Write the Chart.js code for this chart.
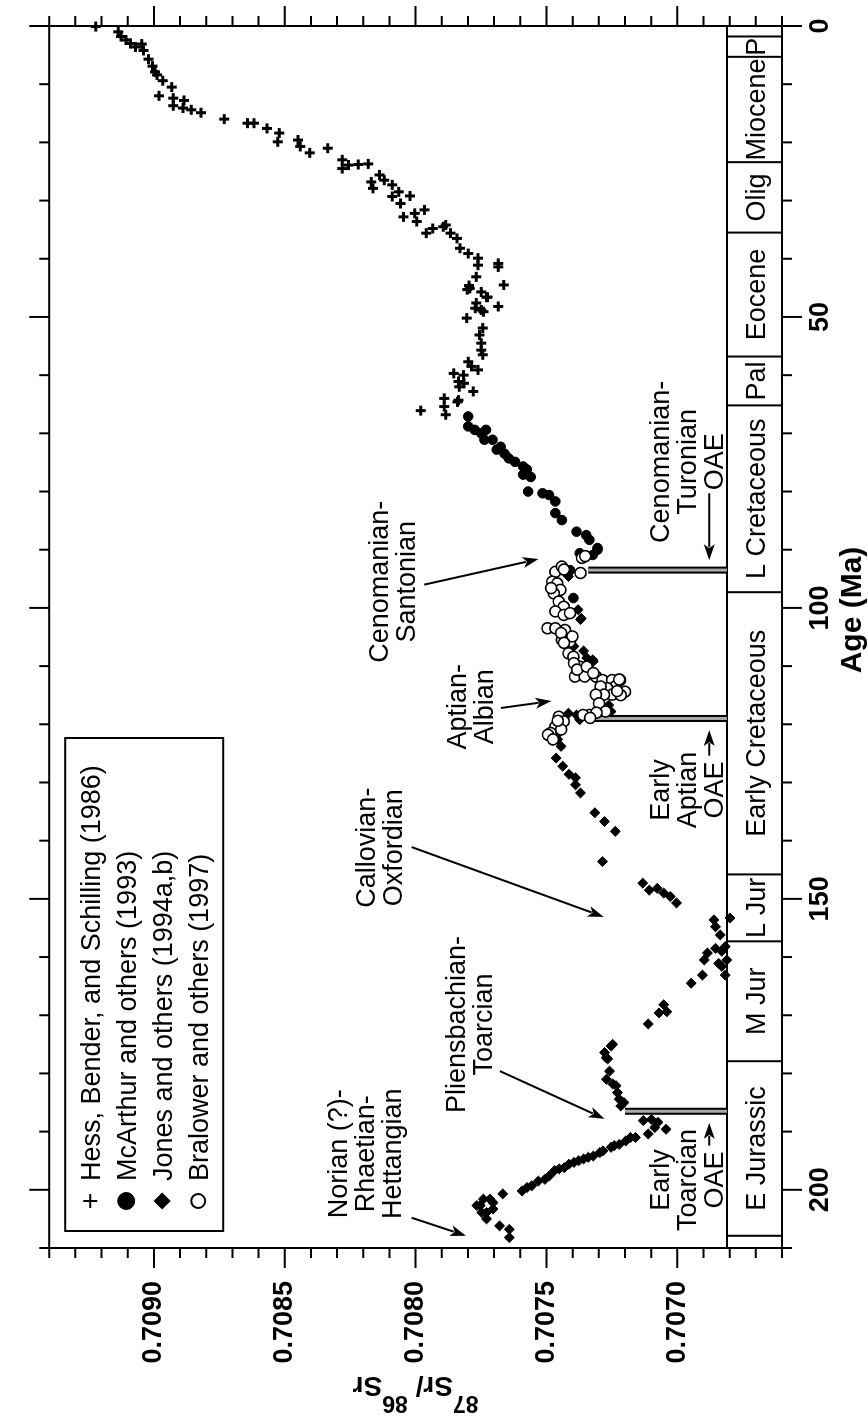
<!DOCTYPE html>
<html>
<head>
<meta charset="utf-8">
<script src="https://cdn.jsdelivr.net/npm/chart.js@4.4.1/dist/chart.umd.min.js"></script>
<style>
html, body { margin:0; padding:0; background:#fff; width:868px; height:1420px; overflow:hidden; }
#wrap { position:absolute; left:0; top:0; width:1420px; height:868px; transform-origin:0 0; transform:translateY(1420px) rotate(-90deg); }
canvas { display:block; }
</style>
</head>
<body>
<div id="wrap"><canvas id="c" width="1420" height="868"></canvas></div>
<script>
// ---------------- DATA (age in Ma, 87Sr/86Sr) ----------------
const hess = [
 [0.1,0.709222],[1.0,0.709136],[1.8,0.709126],[2.4,0.709107],[3.0,0.709089],[3.6,0.709070],[3.1,0.709046],[4.2,0.709040],
 [5.7,0.709021],[6.9,0.709005],[7.9,0.708996],[8.4,0.708988],[9.4,0.708966],[10.5,0.708932],[12.0,0.708980],[12.4,0.708926],
 [13.7,0.708926],[12.8,0.708885],[14.1,0.708889],[14.4,0.708857],[14.9,0.708820],[16.0,0.708731],[16.7,0.708642],[16.7,0.708617],
 [17.6,0.708568],[18.4,0.708521],[19.9,0.708527],[19.6,0.708449],[20.7,0.708441],[21.8,0.708404],[21.0,0.708336],[23.0,0.708280],
 [24.5,0.708280],[23.9,0.708256],[23.8,0.708219],[23.7,0.708181],[26.8,0.708169],[27.9,0.708163],[25.6,0.708138],[26.5,0.708120],
 [27.3,0.708089],[29.3,0.708089],[28.5,0.708064],[30.5,0.708058],[29.2,0.708021],[32.8,0.708046],[32.2,0.708003],[33.6,0.707996],
 [31.6,0.707966],[35.6,0.707959],[34.8,0.707934],[34.5,0.707894],[34.2,0.707885],[35.6,0.707867],[36.5,0.707842],[38.2,0.707830],
 [39.1,0.707799],[39.9,0.707762],[41.1,0.707762],[40.8,0.707684],[41.4,0.707684],[44.5,0.707663],[43.1,0.707768],[45.1,0.707793],
 [45.7,0.707749],[46.6,0.707725],[47.6,0.707768],[48.8,0.707749],[48.2,0.707684],[50.2,0.707805],[51.9,0.707743],[53.1,0.707756],
 [54.5,0.707749],[55.7,0.707749],[56.5,0.707743],[57.7,0.707799],[58.5,0.707786],[59.1,0.707762],[59.7,0.707854],[60.0,0.707817],
 [61.1,0.707836],[62.8,0.707780],[64.3,0.707836],[64.0,0.707891],[65.4,0.707891],[66.8,0.707885],[66.1,0.707980],[62.0,0.707833],
 [64.6,0.707840],[61.4,0.707815],[44.6,0.707796],[45.3,0.707803],[48.5,0.707772],[49.1,0.707741],[46.6,0.707729]
];
const mcarthur = [
 [67.1,0.707799],[68.8,0.707799],[69.4,0.707774],[70.0,0.707749],[69.4,0.707731],[71.1,0.707737],[71.1,0.707706],[72.3,0.707675],
 [72.8,0.707690],[73.5,0.707660],[74.3,0.707644],[74.9,0.707620],[75.7,0.707589],[76.2,0.707575],[77.1,0.707589],[77.5,0.707560],
 [80.0,0.707570],[80.3,0.707515],[80.6,0.707490],[81.7,0.707466],[83.7,0.707466],[84.9,0.707441],[86.9,0.707385],[87.5,0.707348],
 [88.3,0.707336],[90.0,0.707305],[90.9,0.707323],[89.7,0.707305],[90.6,0.707373],[93.5,0.707410],[94.0,0.707420],[98.3,0.707397],
 [118.7,0.707373],[121.5,0.707459]
];
const jones = [
 [94.6,0.707416],[102.0,0.707370],[100.3,0.707379],[101.8,0.707367],[106.6,0.707395],[107.4,0.707358],[108.6,0.707346],[109.2,0.707321],
 [108.9,0.707323],[116.7,0.707262],[117.8,0.707253],[118.1,0.707416],[118.4,0.707385],[119.2,0.707373],[122.6,0.707457],[123.8,0.707444],
 [125.8,0.707463],[127.2,0.707438],[128.6,0.707414],[129.2,0.707389],[130.4,0.707389],[131.8,0.707370],[135.2,0.707315],[136.7,0.707278],
 [138.4,0.707237],[143.6,0.707286],[147.3,0.707132],[148.5,0.707107],[148.2,0.707077],[149.0,0.707052],[149.6,0.707027],[150.7,0.707003],
 [153.6,0.706860],[154.8,0.706854],[153.3,0.706799],[156.2,0.706836],[159.3,0.706885],[158.5,0.706854],[159.0,0.706830],[158.2,0.706817],
 [160.5,0.706811],[161.1,0.706842],[161.6,0.706830],[163.1,0.706817],[160.5,0.706897],[163.1,0.706904],[164.5,0.706947],[168.2,0.707052],
 [169.4,0.707040],[169.6,0.707070],[171.5,0.707111],[175.0,0.707247],[175.3,0.707253],[176.4,0.707278],[177.3,0.707272],[177.5,0.707266],
 [179.6,0.707259],[181.0,0.707271],[181.8,0.707247],[182.1,0.707234],[183.3,0.707229],[184.4,0.707222],[185.0,0.707204],[185.6,0.707216],
 [187.9,0.707099],[188.1,0.707130],[188.4,0.707074],[189.3,0.707086],[189.6,0.707043],[190.4,0.707111],[191.0,0.707160],[191.0,0.707179],
 [191.6,0.707197],[192.2,0.707222],[192.4,0.707241],[192.7,0.707253],[193.3,0.707284],[193.6,0.707296],[194.2,0.707321],[194.4,0.707340],
 [194.7,0.707358],[195.0,0.707377],[195.3,0.707395],[195.6,0.707414],[196.2,0.707432],[196.4,0.707451],[196.7,0.707469],[197.6,0.707489],
 [198.2,0.707506],[198.5,0.707531],[199.3,0.707556],[199.6,0.707574],[200.2,0.707593],[200.7,0.707667],[201.6,0.707716],[201.6,0.707741],
 [202.2,0.707704],[202.7,0.707753],[202.7,0.707766],[203.3,0.707704],[203.9,0.707729],[203.9,0.707747],[205.0,0.707729],[206.2,0.707679],
 [206.8,0.707642],[208.2,0.707642]
];
const bralower = [
 [93.8,0.707466],[92.9,0.707441],[91.4,0.707364],[91.1,0.707352],[94.0,0.707370],[95.5,0.707478],[95.8,0.707459],[96.9,0.707447],
 [97.5,0.707472],[98.9,0.707453],[99.8,0.707434],[100.6,0.707466],[101.2,0.707434],[100.9,0.707410],[103.5,0.707496],[103.5,0.707466],
 [103.8,0.707429],[105.5,0.707441],[105.8,0.707410],[107.8,0.707416],[108.4,0.707397],[110.1,0.707373],[111.8,0.707391],[111.8,0.707354],
 [111.8,0.707311],[112.4,0.707286],[112.4,0.707249],[112.4,0.707219],[114.4,0.707200],[113.5,0.707237],[113.8,0.707268],[113.5,0.707293],
 [114.9,0.707249],[114.9,0.707280],[114.9,0.707311],[116.4,0.707299],[117.8,0.707274],[118.4,0.707336],[118.4,0.707360],[118.7,0.707453],
 [119.5,0.707434],[120.4,0.707466],[121.5,0.707484],[121.8,0.707494],[122.6,0.707475],[120.9,0.707444],[93.4,0.707433],[96.6,0.707482],
 [104.3,0.707444],[104.9,0.707401],[106.0,0.707433],[109.5,0.707395],[110.6,0.707383],[110.1,0.707346],[111.2,0.707321],[112.3,0.707222],
 [115.0,0.707216],[114.3,0.707230],[118.0,0.707309],[118.9,0.707333],[119.4,0.707457]
];
// OAE bars: age and Sr where the bar starts; bars run to the time-scale column
const oaeAges = [93.5, 119.0, 186.5];
const oaeSrStart = [0.70734, 0.70733, 0.70720];
// Geologic time scale
const periodNames  = ["", "P", "Miocene", "Olig", "Eocene", "Pal", "L Cretaceous", "Early Cretaceous", "L Jur", "M Jur", "E Jurassic", ""];
const periodBounds = [0, 1.8, 5.3, 23.4, 35.5, 56.8, 65.2, 97.3, 145.8, 157.3, 177.9, 207.9, 210];
// Tick labels
const ageTickLabels = [0, 50, 100, 150, 200];
const srTickLabels = [0.7070, 0.7075, 0.7080, 0.7085, 0.7090];
const seriesNames = ["Hess, Bender, and Schilling (1986)", "McArthur and others (1993)", "Jones and others (1994a,b)", "Bralower and others (1997)"];

// ---------------- CONFIG ----------------
const AGE_MIN = 0, AGE_MAX = 210, SR_MIN = 0.7066, SR_MAX = 0.7094, COLUMN_SR = 0.70681;
const FONT = '"Liberation Sans", Arial, Helvetica, sans-serif';

const notes = [
  {lines:['Cenomanian-','Turonian','OAE'], age:74.9, sr:0.707033},
  {lines:['Cenomanian-','Santonian'], age:95.5, sr:0.708107},
  {lines:['Aptian-','Albian'], age:117.0, sr:0.707807},
  {lines:['Callovian-','Oxfordian'], age:141.2, sr:0.708156},
  {lines:['Early','Aptian','OAE'], age:131.3, sr:0.707033},
  {lines:['Pliensbachian-','Toarcian'], age:171.6, sr:0.707811},
  {lines:['Early','Toarcian','OAE'], age:198.3, sr:0.707033},
  {lines:['Norian (?)-','Rhaetian-','Hettangian'], age:193.8, sr:0.708263}
];
const arrows = [
  [80.3,0.706878, 91.8,0.706878],
  [96.0,0.707967, 91.6,0.707530],
  [117.2,0.707674, 116.0,0.707481],
  [141.1,0.708015, 153.1,0.707281],
  [125.4,0.706878, 121.0,0.706878],
  [179.6,0.707678, 187.8,0.707278],
  [192.4,0.706878, 188.5,0.706878],
  [204.8,0.708015, 207.9,0.707807]
];

const toXY = arr => arr.map(p => ({x:p[0], y:p[1]}));

const styles = [
  {pointStyle:'cross', pointRadius:5, pointBorderWidth:3, pointBackgroundColor:'#000', pointBorderColor:'#000'},
  {pointStyle:'circle', pointRadius:4.8, pointBorderWidth:1, pointBackgroundColor:'#000', pointBorderColor:'#000'},
  {pointStyle:'rectRot', pointRadius:5, pointBorderWidth:1, pointBackgroundColor:'#000', pointBorderColor:'#000'},
  {pointStyle:'circle', pointRadius:5.5, pointBorderWidth:1.6, pointBackgroundColor:'#fff', pointBorderColor:'#000'}
];
const series = [hess, mcarthur, jones, bralower];
const orders = [3, 1, 2, 0];

const datasets = series.map((s, i) => Object.assign({
  label: seriesNames[i], data: toXY(s), showLine:false, order: orders[i], clip: false
}, styles[i]));

oaeAges.forEach((a, i) => {
  const d = [{x:a, y:oaeSrStart[i]}, {x:a, y:COLUMN_SR}];
  datasets.push({type:'line', label:'', data:d, borderColor:'#000', borderWidth:7, pointRadius:0, order:6, clip:false});
  datasets.push({type:'line', label:'', data:d, borderColor:'#a8a8a8', borderWidth:3, pointRadius:0, order:5, clip:false});
});

function drawArrow(ctx, x1, y1, x2, y2) {
  const ang = Math.atan2(y2 - y1, x2 - x1);
  const L = 16, W = 5.5;
  const bx = x2 - Math.cos(ang) * (L - 3), by = y2 - Math.sin(ang) * (L - 3);
  ctx.beginPath(); ctx.moveTo(x1, y1); ctx.lineTo(bx, by); ctx.stroke();
  ctx.beginPath();
  ctx.moveTo(x2, y2);
  ctx.lineTo(x2 - Math.cos(ang) * L + Math.sin(ang) * W, y2 - Math.sin(ang) * L - Math.cos(ang) * W);
  ctx.lineTo(x2 - Math.cos(ang) * (L - 4), y2 - Math.sin(ang) * (L - 4));
  ctx.lineTo(x2 - Math.cos(ang) * L - Math.sin(ang) * W, y2 - Math.sin(ang) * L + Math.cos(ang) * W);
  ctx.closePath(); ctx.fill();
}

const decor = {
  id: 'decor',
  beforeDatasetsDraw(chart) {
    const {ctx, chartArea: a, scales: {x: xs, y: ys}} = chart;
    ctx.save();
    ctx.strokeStyle = '#000'; ctx.lineWidth = 2;
    const y1 = ys.getPixelForValue(COLUMN_SR), y2 = a.bottom;
    ctx.beginPath();
    ctx.moveTo(a.left, y1); ctx.lineTo(a.right, y1);
    periodBounds.forEach(b => {
      if (b > AGE_MIN && b < AGE_MAX) { const px = xs.getPixelForValue(b); ctx.moveTo(px, y1); ctx.lineTo(px, y2); }
    });
    ctx.stroke();
    ctx.fillStyle = '#000'; ctx.font = '27px ' + FONT; ctx.textAlign = 'center'; ctx.textBaseline = 'alphabetic';
    periodNames.forEach((n, i) => {
      if (!n) return;
      const cx = (xs.getPixelForValue(periodBounds[i]) + xs.getPixelForValue(periodBounds[i + 1])) / 2;
      ctx.fillText(n, cx, (y1 + y2) / 2 + 10);
    });
    ctx.restore();
  },
  afterDatasetsDraw(chart) {
    const {ctx, chartArea: a, scales: {x: xs, y: ys}} = chart;
    ctx.save();
    ctx.strokeStyle = '#000'; ctx.fillStyle = '#000'; ctx.lineWidth = 2;
    // frame
    ctx.strokeRect(a.left, a.top, a.right - a.left, a.bottom - a.top);
    // ticks
    ctx.beginPath();
    for (let v = AGE_MIN; v <= AGE_MAX + 1e-9; v += 10) {
      const len = (v % 50 === 0) ? 20 : 10;
      const px = xs.getPixelForValue(v);
      ctx.moveTo(px, a.bottom); ctx.lineTo(px, a.bottom + len);
      ctx.moveTo(px, a.top); ctx.lineTo(px, a.top - len);
    }
    for (let k = 0; k <= 28; k++) {
      const v = SR_MIN + k * 0.0001;
      const len = ((k - 4) % 5 === 0) ? 20 : 10;
      const py = ys.getPixelForValue(v);
      ctx.moveTo(a.left, py); ctx.lineTo(a.left - len, py);
      ctx.moveTo(a.right, py); ctx.lineTo(a.right + len, py);
    }
    ctx.stroke();

    // legend
    const lx = a.left + 17, ly = a.top + 16, lw = 493, lh = 158;
    ctx.fillStyle = '#fff'; ctx.fillRect(lx, ly, lw, lh);
    ctx.strokeRect(lx, ly, lw, lh);
    ctx.font = '27px ' + FONT; ctx.textAlign = 'left'; ctx.textBaseline = 'alphabetic';
    const legendStyles = [
      {pointStyle:'cross', radius:7, borderWidth:2, fill:'#000'},
      {pointStyle:'circle', radius:8.5, borderWidth:1, fill:'#000'},
      {pointStyle:'rectRot', radius:8, borderWidth:1, fill:'#000'},
      {pointStyle:'circle', radius:7, borderWidth:2, fill:'#fff'}
    ];
    seriesNames.forEach((n, i) => {
      const base = ly + 35 + i * 36;
      const st = legendStyles[i];
      ctx.fillStyle = st.fill; ctx.strokeStyle = '#000'; ctx.lineWidth = st.borderWidth;
      Chart.helpers.drawPoint(ctx, {pointStyle: st.pointStyle, radius: st.radius, borderWidth: st.borderWidth, rotation: 0}, lx + 30, base - 10);
      ctx.fillStyle = '#000';
      ctx.fillText(n, lx + 50, base);
    });

    // annotations
    ctx.fillStyle = '#000'; ctx.strokeStyle = '#000'; ctx.lineWidth = 2;
    ctx.font = '27px ' + FONT; ctx.textAlign = 'center'; ctx.textBaseline = 'alphabetic';
    notes.forEach(n => {
      const cx = xs.getPixelForValue(n.age), by = ys.getPixelForValue(n.sr);
      n.lines.forEach((t, j) => ctx.fillText(t, cx, by + j * 27.3));
    });
    arrows.forEach(r => {
      drawArrow(ctx, xs.getPixelForValue(r[0]), ys.getPixelForValue(r[1]), xs.getPixelForValue(r[2]), ys.getPixelForValue(r[3]));
    });

    // axis titles
    ctx.font = 'bold 30px ' + FONT; ctx.textAlign = 'center';
    ctx.fillText('Age (Ma)', a.right - 584, 861);

    ctx.translate(43, (a.top + a.bottom) / 2);
    ctx.rotate(-Math.PI / 2);
    const big = 'bold 28px ' + FONT, small = 'bold 23px ' + FONT;
    const parts = [['87', small, -19], ['Sr/ ', big, 0], ['86', small, -19], ['Sr', big, 0]];
    let w = 0;
    parts.forEach(p => { ctx.font = p[1]; w += ctx.measureText(p[0]).width; });
    let x = -w / 2;
    ctx.textAlign = 'left';
    parts.forEach(p => { ctx.font = p[1]; ctx.fillText(p[0], x, p[2]); x += ctx.measureText(p[0]).width; });
    ctx.restore();
  }
};

Chart.defaults.font.family = FONT;
Chart.defaults.color = '#000';

new Chart(document.getElementById('c'), {
  type: 'scatter',
  data: { datasets },
  options: {
    responsive: false,
    animation: false,
    devicePixelRatio: 1,
    events: [],
    layout: { padding: { left: 0, top: 26, right: 26, bottom: 0 } },
    plugins: { legend: { display: false }, tooltip: { enabled: false } },
    scales: {
      x: {
        type: 'linear', position: 'bottom', reverse: true, min: AGE_MIN, max: AGE_MAX,
        afterBuildTicks: s => { s.ticks = ageTickLabels.map(v => ({value: v})); },
        afterFit: s => { s.height = 86; },
        grid: { display: false, drawTicks: false },
        border: { display: false },
        ticks: { padding: 22, maxRotation: 0, autoSkip: false, color: '#000',
                 font: { size: 27, weight: 'bold' }, callback: v => String(v) }
      },
      y: {
        type: 'linear', position: 'left', min: SR_MIN, max: SR_MAX,
        afterBuildTicks: s => { s.ticks = srTickLabels.map(v => ({value: v})); },
        afterFit: s => { s.width = 172; },
        grid: { display: false, drawTicks: false },
        border: { display: false },
        ticks: { padding: 33, autoSkip: false, color: '#000',
                 font: { size: 27, weight: 'bold' }, callback: v => Number(v).toFixed(4) }
      }
    }
  },
  plugins: [decor]
});
</script>
</body>
</html>
